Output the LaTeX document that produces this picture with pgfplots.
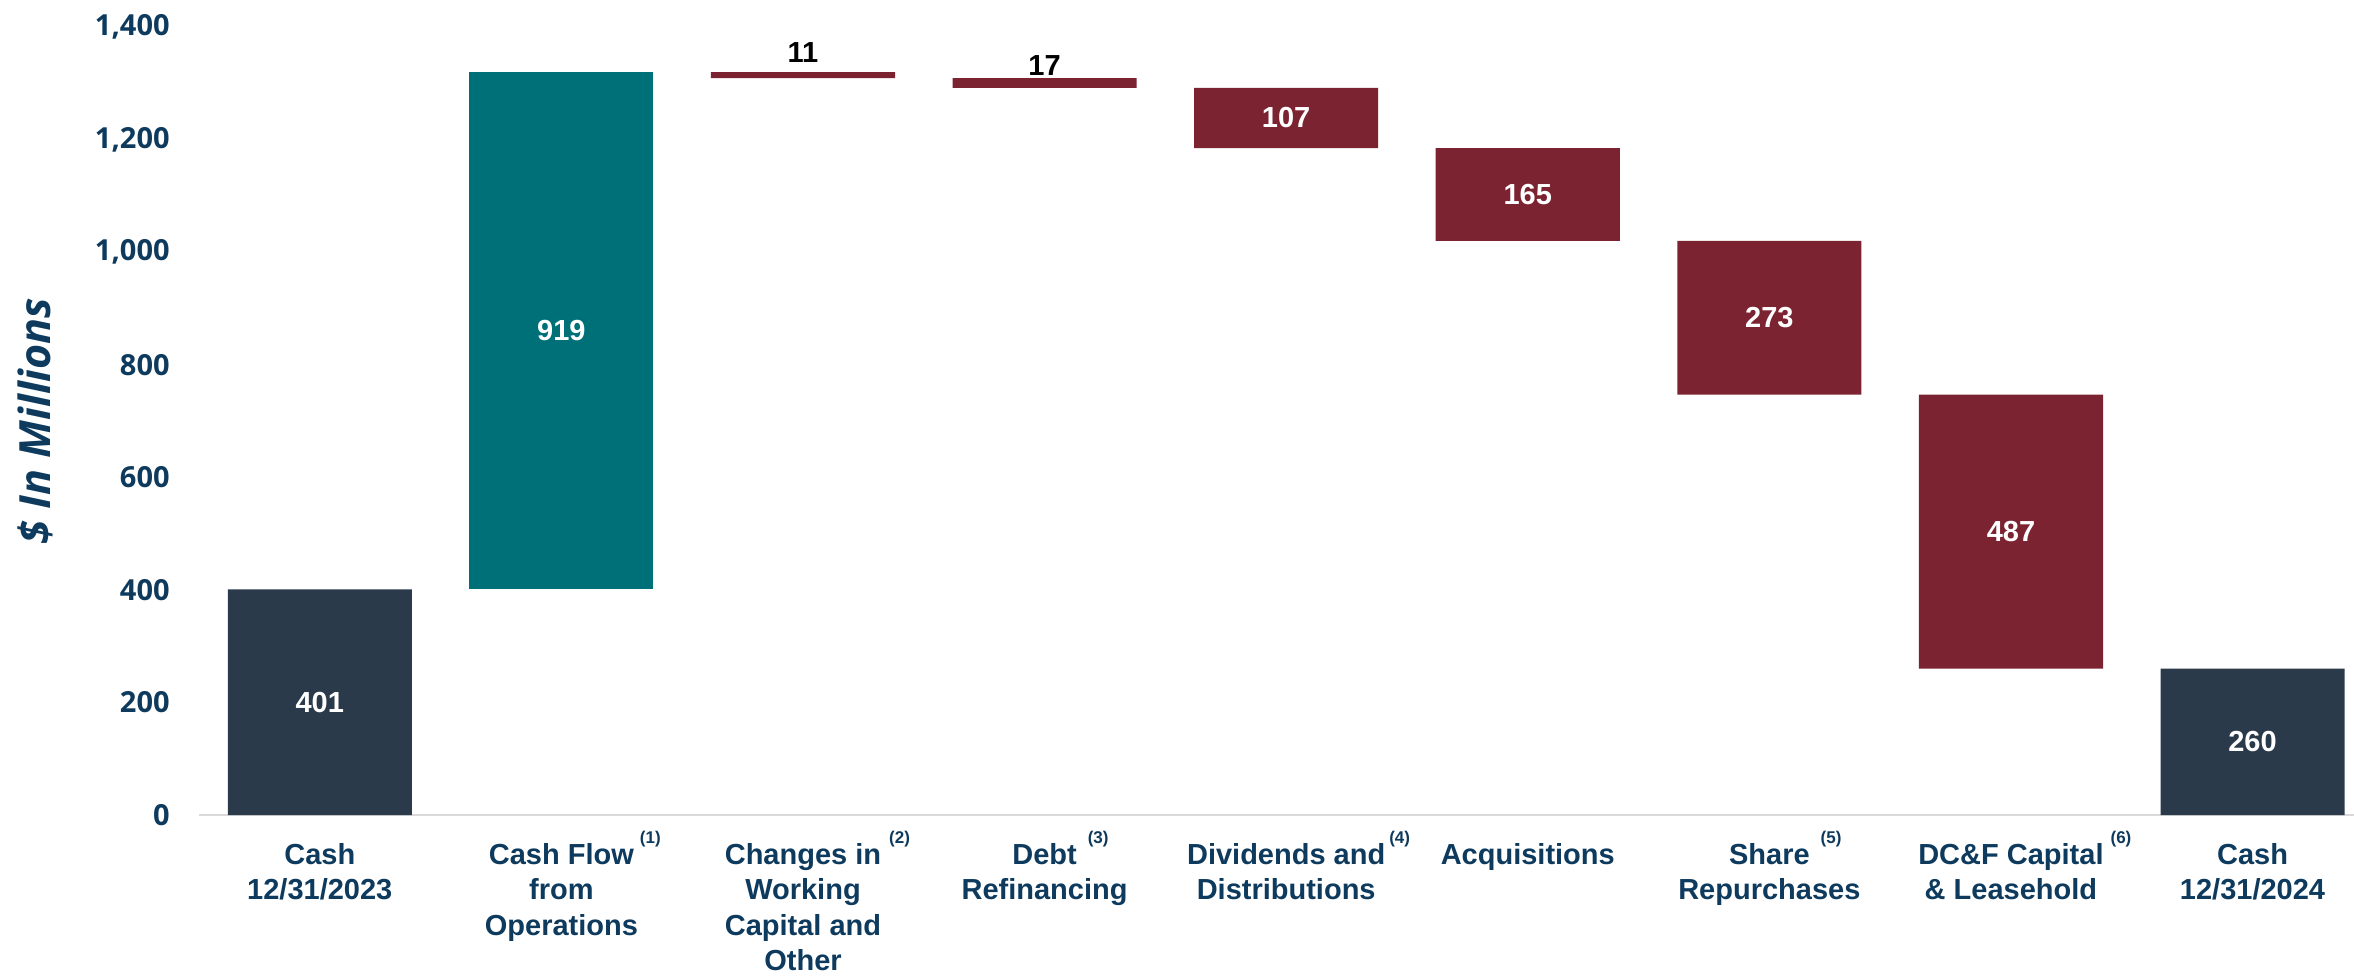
\documentclass[border=0pt]{standalone}
\usepackage{fontspec}
\setmainfont{Liberation Sans}
\newfontfamily\osans{Open Sans}
\usepackage{pgfplots}
\pgfplotsset{compat=1.18}
\usepackage{pgfplotstable}
\usetikzlibrary{calc}

\definecolor{cslate}{HTML}{2B3A4A}
\definecolor{cteal}{HTML}{007078}
\definecolor{cmaroon}{HTML}{7B2330}
\definecolor{cnavy}{HTML}{0D3A5D}
\definecolor{caxis}{HTML}{D9D9D9}

\newcommand{\supn}[2]{\rlap{\hspace{#1}\smash{\raisebox{10.3pt}{\fontsize{8.5}{8.5}\selectfont(#2)}}}}

\tikzset{vlab/.style={font=\bfseries\fontsize{14.5}{14.5}\selectfont, inner sep=0pt}}

\pgfplotstableread{
x base total inc dec
0 0 401 0 0
1 401 0 919 0
2 1309 0 0 11
3 1292 0 0 17
4 1185 0 0 107
5 1020 0 0 165
6 747 0 0 273
7 260 0 0 487
8 0 260 0 0
}\wfdata

\begin{document}
\begin{tikzpicture}
\begin{axis}[
  scale only axis,
  width=1077.5pt, height=394pt,
  xmin=-0.5, xmax=8.42, ymin=0, ymax=1400,
  enlargelimits=false,
  clip=false,
  ybar stacked, bar width=0.762,
  axis x line*=bottom, axis y line*=left,
  y axis line style={draw=none},
  x axis line style={draw=caxis, line width=1.25pt},
  major tick length=0pt,
  xtick={0,...,8},
  ytick={0,200,...,1400},
  /pgf/number format/assume math mode=true,
  /pgf/number format/1000 sep={,},
  yticklabel style={font=\osans\bfseries\fontsize{14.5}{14.5}\selectfont, text=cnavy, anchor=east, inner sep=0pt, xshift=-14.5pt},
  xticklabel style={font=\bfseries\fontsize{14.5}{17.75}\selectfont, text=cnavy, align=center, anchor=north, inner sep=0pt, yshift=-14pt},
  xticklabels={
    {\vphantom{C}Cash\\12/31/2023},
    {\vphantom{C}Cash Flow\supn{3pt}{1}\\from\\Operations},
    {\vphantom{C}Changes in\supn{4pt}{2}\\Working\\Capital and\\Other},
    {\vphantom{C}Debt\supn{5.5pt}{3}\\Refinancing},
    {\vphantom{C}Dividends and\supn{2pt}{4}\\Distributions},
    {\vphantom{C}Acquisitions},
    {\vphantom{C}Share\supn{5.5pt}{5}\\Repurchases},
    {\vphantom{C}DC\&F Capital\supn{3.5pt}{6}\\\& Leasehold},
    {\vphantom{C}Cash\\12/31/2024}},
  ylabel={\$ In Millions},
  ylabel style={font=\osans\bfseries\itshape\fontsize{21.5}{21.5}\selectfont, at={(axis description cs:0,0.5)}, anchor=center, yshift=82pt, text=cnavy, inner sep=0pt},
]
\addplot[draw=none, fill=none] table[x=x, y=base] {\wfdata};
\addplot[draw=none, fill=cslate] table[x=x, y=total] {\wfdata};
\addplot[draw=none, fill=cteal] table[x=x, y=inc] {\wfdata};
\addplot[draw=none, fill=cmaroon] table[x=x, y=dec] {\wfdata};

\coordinate (SW) at (rel axis cs:0,0);
\coordinate (NE) at (rel axis cs:1,1);
\coordinate (v0) at (axis cs:0,200.5);
\coordinate (v1) at (axis cs:1,860.5);
\coordinate (v2) at (axis cs:2,1320);
\coordinate (v3) at (axis cs:3,1309);
\coordinate (v4) at (axis cs:4,1238.5);
\coordinate (v5) at (axis cs:5,1102.5);
\coordinate (v6) at (axis cs:6,883.5);
\coordinate (v7) at (axis cs:7,503.5);
\coordinate (v8) at (axis cs:8,130);
\end{axis}
\node[vlab, white] at (v0) {401};
\node[vlab, white] at (v1) {919};
\node[vlab, black, anchor=base, yshift=5pt] at (v2) {11};
\node[vlab, black, anchor=base, yshift=1.5pt] at (v3) {17};
\node[vlab, white] at (v4) {107};
\node[vlab, white] at (v5) {165};
\node[vlab, white] at (v6) {273};
\node[vlab, white] at (v7) {487};
\node[vlab, white] at (v8) {260};
\pgfresetboundingbox
\useasboundingbox ($(SW)+(-99.5pt,-81.5pt)$) rectangle ($(NE)+(0pt,13.5pt)$);
\end{tikzpicture}
\end{document}
